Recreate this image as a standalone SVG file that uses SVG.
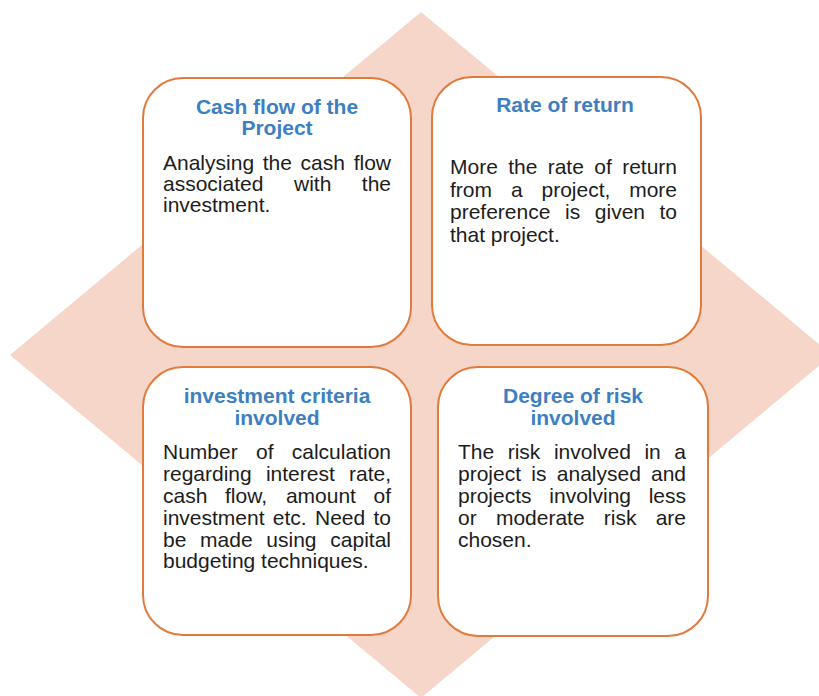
<svg xmlns="http://www.w3.org/2000/svg" width="819" height="696" viewBox="0 0 819 696">
<style>
.box{fill:#ffffff;stroke:#e07b3c;stroke-width:2}
.t{font-family:"Liberation Sans",Arial,sans-serif;font-size:21px;font-weight:bold;fill:#3d7fc1;text-anchor:middle}
.b{font-family:"Liberation Sans",Arial,sans-serif;font-size:21px;fill:#1c1c1c}
.e{text-anchor:end}
</style>
<rect width="819" height="696" fill="#ffffff"/>
<polygon points="421,12 832,355 421,698 10,355" fill="#f7d6ca"/>
<g id="connectors"></g>
<g id="cashflow">
<rect class="box" x="143" y="78" width="268" height="269" rx="40"/>
<text class="t" x="277" y="114">Cash flow of the</text>
<text class="t" x="277" y="135">Project</text>
<text class="b" y="170"><tspan x="163">Analysing</tspan><tspan x="262.7">the</tspan><tspan x="300.6">cash</tspan></text>
<text class="b e" x="391" y="170">flow</text>
<text class="b" y="191"><tspan x="163">associated</tspan><tspan x="294">with</tspan></text>
<text class="b e" x="391" y="191">the</text>
<text class="b" x="163" y="212">investment.</text>
</g>
<g id="rate">
<rect class="box" x="432" y="77" width="269" height="268" rx="40"/>
<text class="t" x="565" y="112">Rate of return</text>
<text class="b" y="174"><tspan x="450">More</tspan><tspan x="508.2">the</tspan><tspan x="547.7">rate</tspan><tspan x="594.3">of</tspan></text>
<text class="b e" x="677" y="174">return</text>
<text class="b" y="196.5"><tspan x="450">from</tspan><tspan x="510.9">a</tspan><tspan x="541.5">project,</tspan></text>
<text class="b e" x="677" y="196.5">more</text>
<text class="b" y="219"><tspan x="450">preference</tspan><tspan x="565">is</tspan><tspan x="594.8">given</tspan></text>
<text class="b e" x="677" y="219">to</text>
<text class="b" x="450" y="241.5">that project.</text>
</g>
<g id="criteria">
<rect class="box" x="143" y="367" width="268" height="268" rx="40"/>
<text class="t" x="277" y="403">investment criteria</text>
<text class="t" x="277" y="425">involved</text>
<text class="b" y="459"><tspan x="163">Number</tspan><tspan x="256">of</tspan></text>
<text class="b e" x="391" y="459">calculation</text>
<text class="b" y="481"><tspan x="163">regarding</tspan><tspan x="265.9">interest</tspan></text>
<text class="b e" x="391" y="481">rate,</text>
<text class="b" y="503"><tspan x="163">cash</tspan><tspan x="225">flow,</tspan><tspan x="285.9">amount</tspan></text>
<text class="b e" x="391" y="503">of</text>
<text class="b" y="524.5"><tspan x="163">investment</tspan><tspan x="272.8">etc.</tspan><tspan x="315">Need</tspan></text>
<text class="b e" x="391" y="524.5">to</text>
<text class="b" y="546.5"><tspan x="163">be</tspan><tspan x="200.1">made</tspan><tspan x="266.3">using</tspan></text>
<text class="b e" x="391" y="546.5">capital</text>
<text class="b" x="163" y="568">budgeting techniques.</text>
</g>
<g id="risk">
<rect class="box" x="438" y="367" width="270" height="269" rx="40"/>
<text class="t" x="573" y="403">Degree of risk</text>
<text class="t" x="573" y="425">involved</text>
<text class="b" y="458.5"><tspan x="458">The</tspan><tspan x="507.7">risk</tspan><tspan x="553.9">involved</tspan><tspan x="644.4">in</tspan></text>
<text class="b e" x="686" y="458.5">a</text>
<text class="b" y="480.5"><tspan x="458">project</tspan><tspan x="531.3">is</tspan><tspan x="556.8">analysed</tspan></text>
<text class="b e" x="686" y="480.5">and</text>
<text class="b" y="502.5"><tspan x="458">projects</tspan><tspan x="549.3">involving</tspan></text>
<text class="b e" x="686" y="502.5">less</text>
<text class="b" y="524.5"><tspan x="458">or</tspan><tspan x="495.9">moderate</tspan><tspan x="603.8">risk</tspan></text>
<text class="b e" x="686" y="524.5">are</text>
<text class="b" x="458" y="546.5">chosen.</text>
</g>
</svg>
